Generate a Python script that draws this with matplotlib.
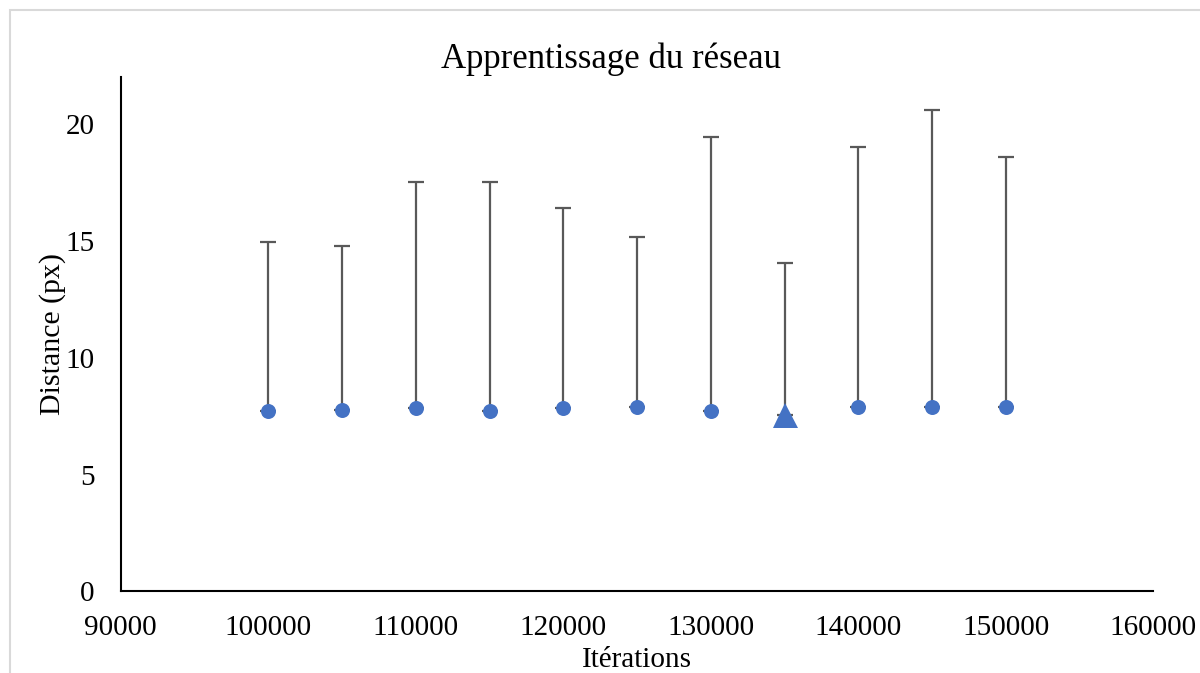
import matplotlib
matplotlib.use("Agg")
import matplotlib.pyplot as plt
from matplotlib.patches import Rectangle

# Training iterations and mean pixel distance, with upper error amounts
iterations = [100000, 105000, 110000, 115000, 120000, 125000,
              130000, 135000, 140000, 145000, 150000]
distance = [7.71, 7.74, 7.83, 7.70, 7.84, 7.90, 7.70, 7.56, 7.90, 7.90, 7.87]
err_upper = [7.21, 7.04, 9.66, 9.81, 8.55, 7.24, 11.71, 6.47, 11.08, 12.68, 10.70]
best_iteration = 135000

x_ticks = [90000, 100000, 110000, 120000, 130000, 140000, 150000, 160000]
y_ticks = [0, 5, 10, 15, 20]

plt.rcParams['font.family'] = ['Liberation Serif', 'DejaVu Serif']

blue = '#4472C4'
bar_color = '#595959'

fig = plt.figure(figsize=(12, 6.73), dpi=100)
ax = fig.add_axes([0.1006, 0.1211, 0.8605, 0.7649])

# upward-only error bars
ax.errorbar(iterations, distance, yerr=[[0] * len(err_upper), err_upper],
            fmt='none', ecolor=bar_color, elinewidth=1.6, capsize=6,
            capthick=1.6, zorder=2)

normal_x = [x for x in iterations if x != best_iteration]
normal_y = [y for x, y in zip(iterations, distance) if x != best_iteration]
best_y = [y for x, y in zip(iterations, distance) if x == best_iteration]

ax.plot(normal_x, normal_y, 'o', color=blue, markersize=10.8,
        markeredgewidth=0, zorder=3)
ax.plot([best_iteration], best_y, '^', color=blue, markersize=18,
        markeredgewidth=0, zorder=3)

ax.set_xlim(90000, 160000)
ax.set_ylim(0, 22)
ax.set_xticks(x_ticks)
ax.set_yticks(y_ticks)
ax.tick_params(axis='both', length=0, labelsize=21)
ax.tick_params(axis='y', pad=19)
ax.tick_params(axis='x', pad=17)

for side in ['top', 'right']:
    ax.spines[side].set_visible(False)
for side in ['left', 'bottom']:
    ax.spines[side].set_linewidth(1.5)
    ax.spines[side].set_color('black')

# chart title centred on the chart area
fig.text(611 / 1200, 1 - 68 / 673, 'Apprentissage du réseau', fontsize=25,
         ha='center', va='baseline')
ax.set_xlabel('Itérations', fontsize=21, labelpad=4)
ax.set_ylabel('Distance (px)', fontsize=21.5, labelpad=-1)

# light chart-area border
fig.patches.append(Rectangle((10 / 1200, -0.05), 1.2, (673 - 10.5) / 673 + 0.05,
                             transform=fig.transFigure, fill=False,
                             edgecolor='#D9D9D9', linewidth=1.5))

fig.savefig('out.png', dpi=100)
